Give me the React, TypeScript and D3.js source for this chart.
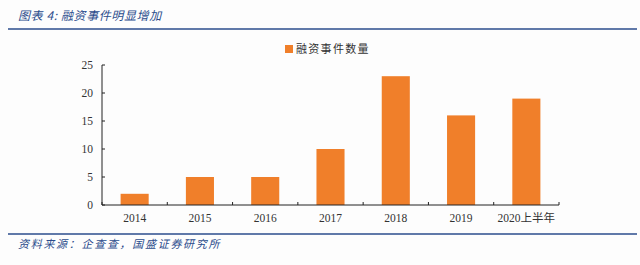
import React from "react";
import * as d3 from "d3";

const categories = ["2014", "2015", "2016", "2017", "2018", "2019", "2020上半年"];
const values = [2, 5, 5, 10, 23, 16, 19];
const yTicks = [0, 5, 10, 15, 20, 25];
const seriesName = "融资事件数量";
const title = "图表 4:  融资事件明显增加";
const source = "资料来源：企查查，国盛证券研究所";

export default function App() {
  const W = 640, H = 265;
  const x0 = 102, x1 = 559, yTop = 65, yBot = 205;
  const x = d3.scaleBand<string>().domain(categories).range([x0, x1]).paddingInner(0.57).paddingOuter(0.285);
  const y = d3.scaleLinear().domain([0, 25]).range([yBot, yTop]);
  const bandStep = (x1 - x0) / categories.length;
  const orange = "#F07F2A";
  const blue = "#2B4C8C";
  const serif = "'Liberation Serif', 'Noto Sans CJK SC', serif";
  const cjk = "'Noto Sans CJK SC', sans-serif";
  return (
    <svg width={W} height={H} style={{ position: "absolute", left: 0, top: 0, background: "#fdfdfd" }}>
      <rect x={0} y={0} width={W} height={H} fill="#fdfdfd" />
      <text x={18} y={20} fontFamily={cjk} fontStyle="italic" fontSize={12} fill={blue} letterSpacing={0.6}>{title}</text>
      <line x1={8} x2={637} y1={29} y2={29} stroke={blue} strokeWidth={1.6} />
      {/* legend */}
      <rect x={285} y={45} width={8} height={8} fill={orange} />
      <text x={296} y={53} fontFamily={cjk} fontSize={11} fill="#333" letterSpacing={1.3}>{seriesName}</text>
      {/* bars */}
      {categories.map((c, i) => (
        <rect key={c} x={x(c)} y={y(values[i])} width={x.bandwidth()} height={yBot - y(values[i])} fill={orange} />
      ))}
      {/* y axis */}
      <line x1={x0} x2={x0} y1={yTop} y2={yBot} stroke="#222" strokeWidth={1} />
      {yTicks.map((t) => (
        <g key={t}>
          <line x1={x0} x2={x0 + 3} y1={y(t)} y2={y(t)} stroke="#222" />
          <text x={93} y={y(t) + 4} textAnchor="end" fontFamily={serif} fontSize={11.5} fill="#333">{t}</text>
        </g>
      ))}
      {/* x axis */}
      <line x1={x0} x2={x1} y1={yBot} y2={yBot} stroke="#222" strokeWidth={1} />
      {d3.range(categories.length + 1).map((i) => (
        <line key={i} x1={x0 + i * bandStep} x2={x0 + i * bandStep} y1={yBot} y2={yBot - 3} stroke="#222" />
      ))}
      {categories.map((c) => (
        <text key={c} x={(x(c) as number) + x.bandwidth() / 2} y={222} textAnchor="middle" fontFamily={serif} fontSize={11.5} fill="#333">{c}</text>
      ))}
      <line x1={8} x2={637} y1={234} y2={234} stroke={blue} strokeWidth={1.6} />
      <text x={18} y={248} fontFamily={cjk} fontStyle="italic" fontSize={11} fill={blue} letterSpacing={1.7}>{source}</text>
    </svg>
  );
}
